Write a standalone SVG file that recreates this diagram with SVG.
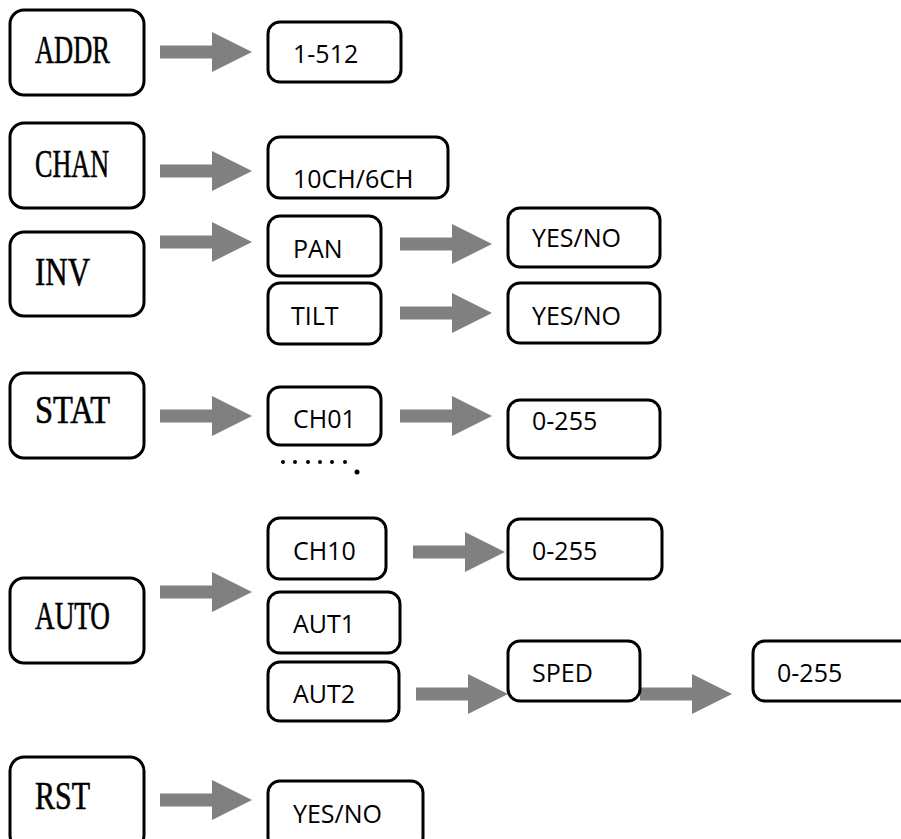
<svg xmlns="http://www.w3.org/2000/svg" xmlns:xlink="http://www.w3.org/1999/xlink" width="901" height="839" viewBox="0 0 901 839">
<style>
.box{fill:#fff;stroke:#000;stroke-width:3}
.s{font-family:"Liberation Serif","Times New Roman",serif;font-size:39px;fill:#000;stroke:#000;stroke-width:0.6}
.t{font-family:"Open Sans","Liberation Sans",sans-serif;font-size:25px;fill:#000}
.arr{fill:#808080}
</style>
<defs>
<path id="arr" d="M0,-6.5 H52 V-20 L92,0 L52,20 V6.5 H0 Z"/>
</defs>
<rect width="901" height="839" fill="#fff"/>
<g id="connectors" class="arr">
<use href="#arr" x="160" y="52"/>
<use href="#arr" x="160" y="171"/>
<use href="#arr" x="160" y="242"/>
<use href="#arr" x="400" y="244"/>
<use href="#arr" x="400" y="313"/>
<use href="#arr" x="160" y="416"/>
<use href="#arr" x="400" y="416"/>
<use href="#arr" x="160" y="592"/>
<use href="#arr" x="413" y="552"/>
<use href="#arr" x="416" y="694"/>
<use href="#arr" x="640" y="694"/>
<use href="#arr" x="160" y="800"/>
</g>
<g id="addr"><rect class="box" x="10" y="10" width="134" height="85" rx="14"/><text class="s" x="35" y="63" textLength="75" lengthAdjust="spacingAndGlyphs">ADDR</text></g>
<g id="addr-val"><rect class="box" x="268" y="22" width="133" height="60" rx="12"/><text class="t" x="293" y="63">1-512</text></g>
<g id="chan"><rect class="box" x="10" y="123" width="134" height="85" rx="14"/><text class="s" x="35" y="177" textLength="74" lengthAdjust="spacingAndGlyphs">CHAN</text></g>
<g id="chan-val"><rect class="box" x="268" y="137" width="180" height="61" rx="12"/><text class="t" x="293" y="188">10CH/6CH</text></g>
<g id="inv"><rect class="box" x="10" y="232" width="134" height="84" rx="14"/><text class="s" x="35" y="285" textLength="55" lengthAdjust="spacingAndGlyphs">INV</text></g>
<g id="pan"><rect class="box" x="268" y="216" width="113" height="60" rx="12"/><text class="t" x="293" y="258">PAN</text></g>
<g id="tilt"><rect class="box" x="268" y="283" width="113" height="61" rx="12"/><text class="t" x="291" y="325">TILT</text></g>
<g id="pan-val"><rect class="box" x="508" y="208" width="152" height="59" rx="12"/><text class="t" x="532" y="247">YES/NO</text></g>
<g id="tilt-val"><rect class="box" x="508" y="283" width="152" height="60" rx="12"/><text class="t" x="532" y="325">YES/NO</text></g>
<g id="stat"><rect class="box" x="10" y="373" width="134" height="85" rx="14"/><text class="s" x="35" y="423" textLength="75" lengthAdjust="spacingAndGlyphs">STAT</text></g>
<g id="ch01"><rect class="box" x="268" y="387" width="113" height="58" rx="12"/><text class="t" x="293" y="428">CH01</text></g>
<g id="ch01-val"><rect class="box" x="508" y="400" width="152" height="58" rx="12"/><text class="t" x="532" y="430">0-255</text></g>
<g id="dots" fill="#000">
<circle cx="283" cy="462" r="2"/><circle cx="295" cy="462" r="2"/><circle cx="308" cy="462" r="2"/><circle cx="320" cy="462" r="2"/><circle cx="332" cy="462" r="2"/><circle cx="345" cy="462" r="2"/><circle cx="357" cy="472" r="2.5"/>
</g>
<g id="auto"><rect class="box" x="10" y="578" width="134" height="85" rx="14"/><text class="s" x="35" y="629" textLength="75" lengthAdjust="spacingAndGlyphs">AUTO</text></g>
<g id="ch10"><rect class="box" x="268" y="518" width="118" height="61" rx="12"/><text class="t" x="293" y="560">CH10</text></g>
<g id="ch10-val"><rect class="box" x="508" y="519" width="154" height="60" rx="12"/><text class="t" x="532" y="560">0-255</text></g>
<g id="aut1"><rect class="box" x="268" y="592" width="132" height="61" rx="12"/><text class="t" x="293" y="633">AUT1</text></g>
<g id="aut2"><rect class="box" x="268" y="662" width="131" height="59" rx="12"/><text class="t" x="293" y="703">AUT2</text></g>
<g id="sped"><rect class="box" x="508" y="641" width="132" height="60" rx="12"/><text class="t" x="532" y="682">SPED</text></g>
<g id="sped-val"><rect class="box" x="753" y="641" width="160" height="60" rx="12"/><text class="t" x="777" y="682">0-255</text></g>
<g id="rst"><rect class="box" x="10" y="757" width="134" height="92" rx="14"/><text class="s" x="35" y="809" textLength="55" lengthAdjust="spacingAndGlyphs">RST</text></g>
<g id="rst-val"><rect class="box" x="268" y="781" width="155" height="68" rx="12"/><text class="t" x="293" y="823">YES/NO</text></g>
</svg>
